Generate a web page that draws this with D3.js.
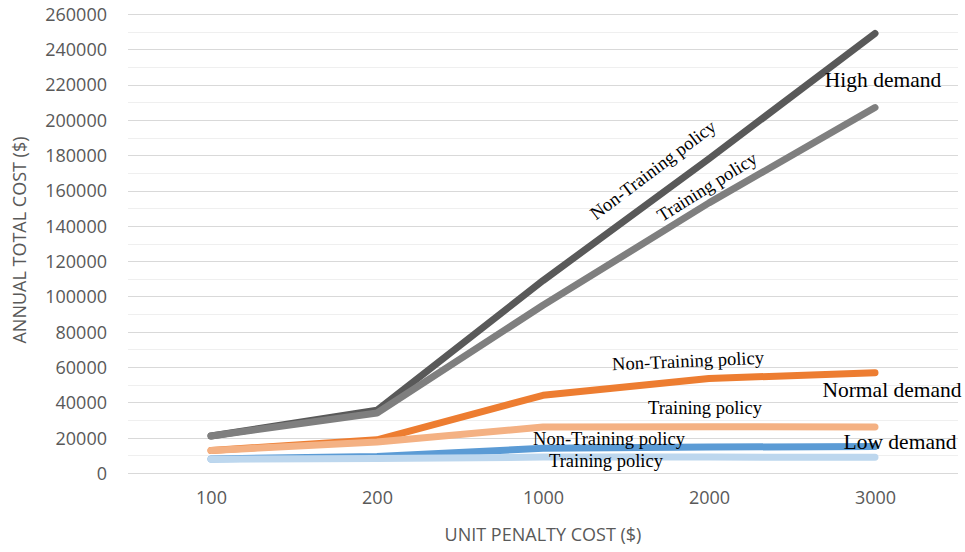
<!DOCTYPE html>
<html>
<head>
<meta charset="utf-8">
<script src="https://cdn.jsdelivr.net/npm/d3@7"></script>
<style>
  html, body { margin: 0; padding: 0; background: #fff; }
  svg { display: block; }
</style>
</head>
<body>
<svg id="chart" width="965" height="552"></svg>
<script>
// Unit penalty cost categories (x axis)
const categories = ["100", "200", "1000", "2000", "3000"];

// Annual total cost per demand level and policy
const highNonTraining   = [21000, 35500, 109000, 178000, 249000];
const highTraining      = [21000, 34000,  95000, 153000, 207000];
const normalNonTraining = [12800, 18800,  44000,  53500,  56800];
const normalTraining    = [12800, 17500,  26000,  26200,  26000];
const lowNonTraining    = [ 8000,  9300,  14000,  14700,  15000];
const lowTraining       = [ 7800,  8200,   9000,   9000,   8900];

// Y ticks
const yTicks = d3.range(0, 260001, 20000);
const yMinor = d3.range(10000, 260000, 20000);

const svg = d3.select("#chart");
const plot = { left: 128, right: 958, top: 14, bottom: 473 };

const x = d3.scalePoint().domain(categories).range([plot.left, plot.right]).padding(0.5);
const y = d3.scaleLinear().domain([0, 260000]).range([plot.bottom, plot.top]);

// Gridlines
svg.append("g").selectAll("line.minor").data(yMinor).join("line")
  .attr("x1", plot.left).attr("x2", plot.right)
  .attr("y1", d => Math.round(y(d)) + 0.5).attr("y2", d => Math.round(y(d)) + 0.5)
  .attr("stroke", "#efefef").attr("stroke-width", 1);
svg.append("g").selectAll("line.major").data(yTicks).join("line")
  .attr("x1", plot.left).attr("x2", plot.right)
  .attr("y1", d => Math.round(y(d)) + 0.5).attr("y2", d => Math.round(y(d)) + 0.5)
  .attr("stroke", "#d9d9d9").attr("stroke-width", 1);

// Y axis tick labels
const yAxis = d3.axisLeft(y).tickValues(yTicks).tickSize(0).tickPadding(0).tickFormat(d3.format("d"));
const gy = svg.append("g").attr("transform", `translate(107,0)`).call(yAxis);
gy.select(".domain").remove();
gy.selectAll("text")
  .attr("font-family", "'Open Sans', sans-serif").attr("font-size", 18)
  .attr("fill", "#595959").attr("dy", "0.35em");

// X axis tick labels
const xAxis = d3.axisBottom(x).tickSize(0).tickPadding(0);
const gx = svg.append("g").attr("transform", `translate(0,490)`).call(xAxis);
gx.select(".domain").remove();
gx.selectAll("text")
  .attr("font-family", "'Open Sans', sans-serif").attr("font-size", 18)
  .attr("fill", "#595959").attr("dy", "0.75em");

// Axis titles
svg.append("text")
  .attr("x", 543).attr("y", 541).attr("text-anchor", "middle")
  .attr("font-family", "'Open Sans', sans-serif").attr("font-size", 18)
  .attr("fill", "#595959").text("UNIT PENALTY COST ($)");
svg.append("text")
  .attr("transform", "translate(26,240) rotate(-90)").attr("text-anchor", "middle")
  .attr("font-family", "'Open Sans', sans-serif").attr("font-size", 18)
  .attr("fill", "#595959").text("ANNUAL TOTAL COST ($)");

// Series lines
const series = [
  { values: lowNonTraining,    color: "#5b9bd5" },
  { values: lowTraining,       color: "#bdd7ee" },
  { values: normalNonTraining, color: "#ed7d31" },
  { values: normalTraining,    color: "#f4b183" },
  { values: highNonTraining,   color: "#595959" },
  { values: highTraining,      color: "#7f7f7f" }
];
const line = d3.line().x((d, i) => x(categories[i])).y(d => y(d));
svg.append("g").selectAll("path").data(series).join("path")
  .attr("d", d => line(d.values))
  .attr("fill", "none").attr("stroke", d => d.color)
  .attr("stroke-width", 7).attr("stroke-linecap", "round").attr("stroke-linejoin", "round");

// Annotations
const notes = [
  { text: "High demand",         x: 883, y: 80,  size: 21.5, rot: 0 },
  { text: "Normal demand",       x: 892, y: 390, size: 21.5, rot: 0 },
  { text: "Low demand",          x: 900, y: 442, size: 21.5, rot: 0 },
  { text: "Non-Training policy", x: 653, y: 170, size: 18.5, rot: -37 },
  { text: "Training policy",     x: 707, y: 187, size: 18.5, rot: -32 },
  { text: "Non-Training policy", x: 688, y: 361, size: 18.5, rot: -2.5 },
  { text: "Training policy",     x: 705, y: 408, size: 18.5, rot: 0 },
  { text: "Non-Training policy", x: 609, y: 439, size: 18.5, rot: 0 },
  { text: "Training policy",     x: 606, y: 461, size: 18.5, rot: 0 }
];
svg.append("g").selectAll("text").data(notes).join("text")
  .attr("transform", d => `translate(${d.x},${d.y}) rotate(${d.rot})`)
  .attr("text-anchor", "middle").attr("dominant-baseline", "central")
  .attr("font-family", "'Liberation Serif', 'Times New Roman', serif")
  .attr("font-size", d => d.size).attr("fill", "#000")
  .text(d => d.text);
</script>
</body>
</html>
